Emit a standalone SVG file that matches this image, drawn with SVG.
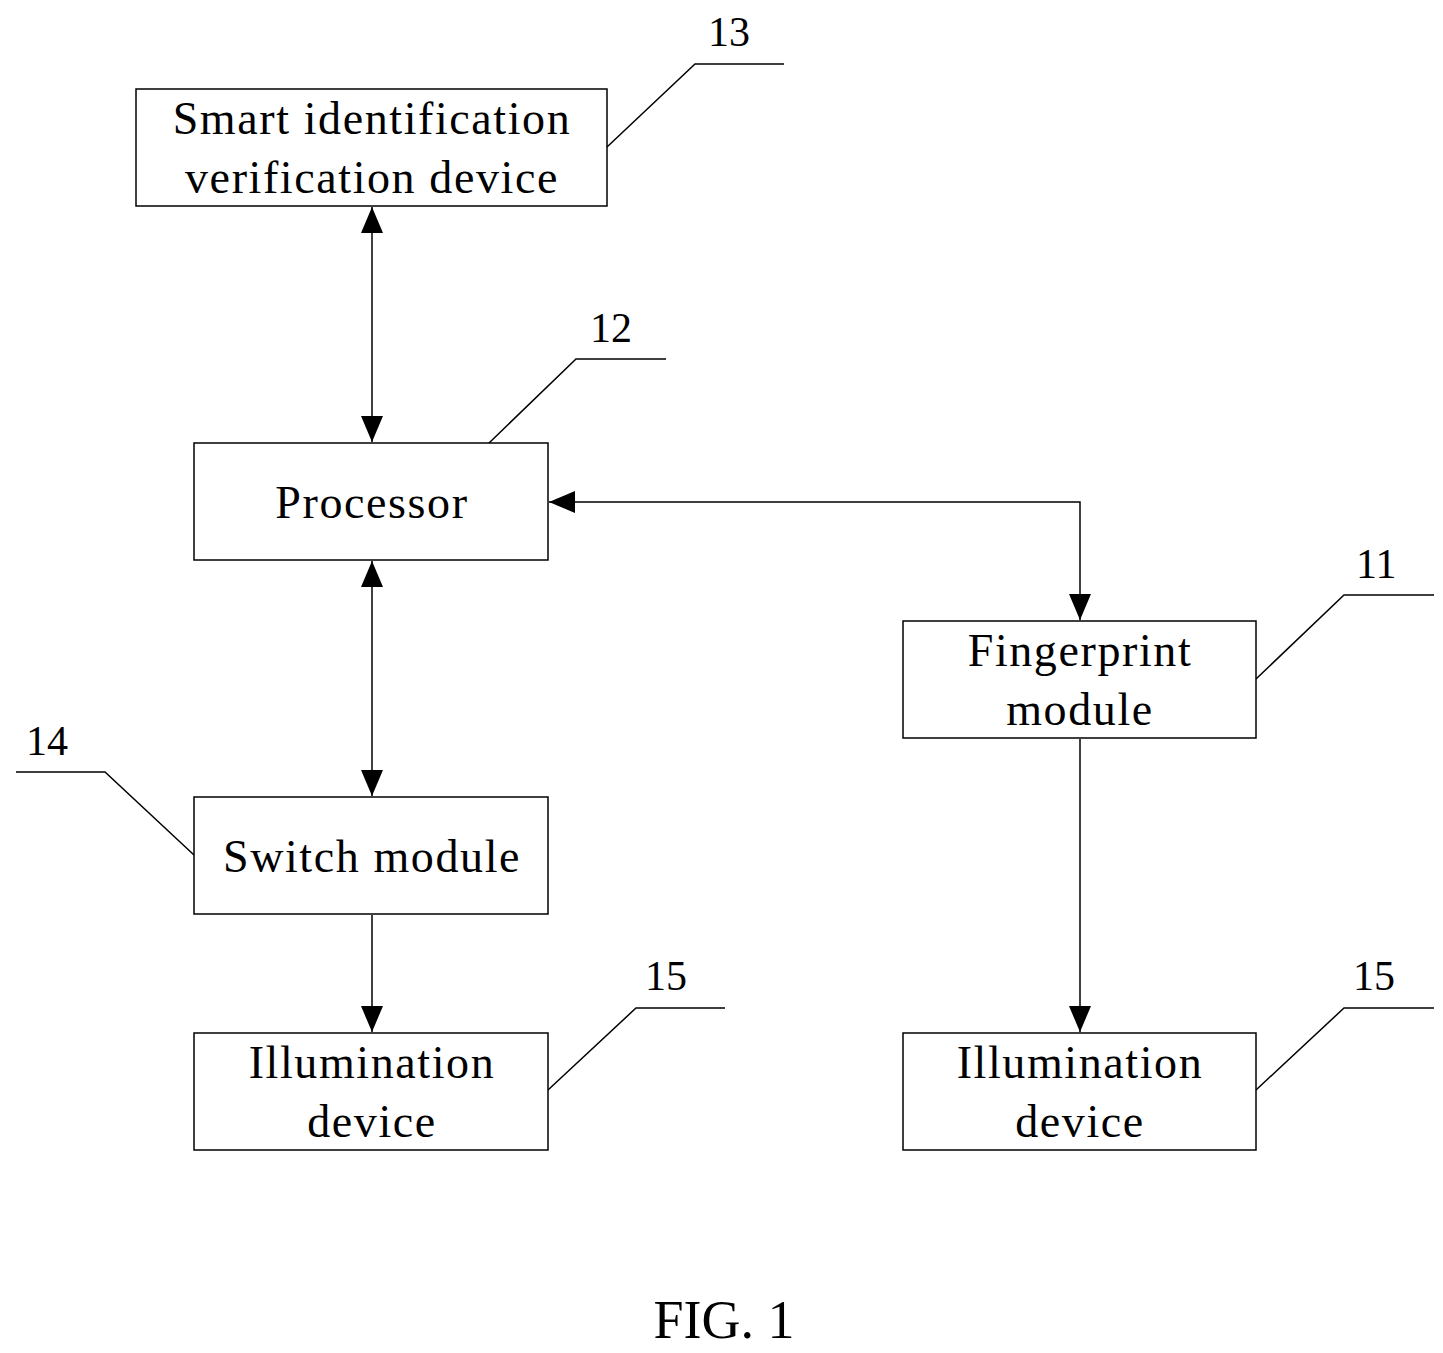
<svg xmlns="http://www.w3.org/2000/svg" width="1443" height="1353" viewBox="0 0 1443 1353">
<style>
rect{fill:#fff;stroke:#000;stroke-width:1.5}
line,polyline{stroke:#000;stroke-width:1.5;fill:none}
text{font-family:"Liberation Serif",serif;font-size:46px;letter-spacing:1.6px;text-anchor:middle;fill:#000}
.n{font-size:42px;letter-spacing:0;text-anchor:start}
</style>
<defs>
<marker id="a" markerWidth="26" markerHeight="22" refX="26" refY="11" orient="auto-start-reverse" markerUnits="userSpaceOnUse"><path d="M0,0L26,11L0,22z" fill="#000"/></marker>
</defs>
<g id="n13"><rect x="136" y="89" width="471" height="117"/><text x="372" y="134">Smart identification</text><text x="372" y="193">verification device</text></g>
<g id="n12"><rect x="194" y="443" width="354" height="117"/><text x="372" y="518">Processor</text></g>
<g id="n11"><rect x="903" y="621" width="353" height="117"/><text x="1080" y="666">Fingerprint</text><text x="1080" y="725">module</text></g>
<g id="n14"><rect x="194" y="797" width="354" height="117"/><text x="372" y="872">Switch module</text></g>
<g id="n15a"><rect x="194" y="1033" width="354" height="117"/><text x="372" y="1078">Illumination</text><text x="372" y="1137">device</text></g>
<g id="n15b"><rect x="903" y="1033" width="353" height="117"/><text x="1080" y="1078">Illumination</text><text x="1080" y="1137">device</text></g>
<g id="connectors">
<line x1="372" y1="207" x2="372" y2="442" marker-start="url(#a)" marker-end="url(#a)"/>
<line x1="372" y1="561" x2="372" y2="796" marker-start="url(#a)" marker-end="url(#a)"/>
<polyline points="549,502 1080,502 1080,620" marker-start="url(#a)" marker-end="url(#a)"/>
<line x1="372" y1="915" x2="372" y2="1032" marker-end="url(#a)"/>
<line x1="1080" y1="739" x2="1080" y2="1032" marker-end="url(#a)"/>
<polyline points="607,147 695,64 784,64"/>
<polyline points="489,443 576,359 666,359"/>
<polyline points="1256,679 1344,595 1434,595"/>
<polyline points="194,855 105,772 16,772"/>
<polyline points="548,1090 636,1008 725,1008"/>
<polyline points="1256,1090 1344,1008 1434,1008"/>
</g>
<text class="n" x="708" y="46">13</text>
<text class="n" x="590" y="342">12</text>
<text class="n" x="1356" y="578">11</text>
<text class="n" x="26" y="755">14</text>
<text class="n" x="645" y="990">15</text>
<text class="n" x="1353" y="990">15</text>
<text x="724" y="1338" style="font-size:54px;letter-spacing:0">FIG. 1</text>
</svg>
